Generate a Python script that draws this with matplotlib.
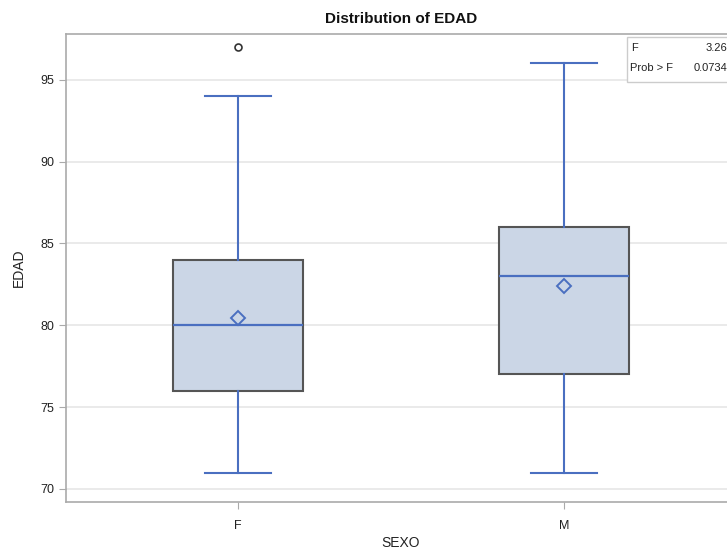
import matplotlib
matplotlib.use("Agg")
import matplotlib.pyplot as plt

categories = ["F", "M"]
whisker_low = [71, 71]
q1 = [76, 77]
median = [80, 83]
q3 = [84, 86]
whisker_high = [94, 96]
means = [80.45, 82.4]
outliers = [[97], []]
yticks = [70, 75, 80, 85, 90, 95]
f_value = "3.26"
p_value = "0.0734"

plt.rcParams['font.family'] = ['Liberation Sans', 'DejaVu Sans']

fig = plt.figure(figsize=(7.27, 5.5), dpi=100)
W, H = 727, 550
left, right, top, bottom = 66, 736, 34, 502
ax = fig.add_axes([left / W, 1 - bottom / H, (right - left) / W, (bottom - top) / H])

stats = []
for i, c in enumerate(categories):
    stats.append(dict(label=c, whislo=whisker_low[i], q1=q1[i], med=median[i],
                      q3=q3[i], whishi=whisker_high[i], mean=means[i], fliers=outliers[i]))

blue = "#4a6fc0"
ax.bxp(stats, positions=[0, 1], widths=0.4, showmeans=True, patch_artist=True,
       boxprops=dict(facecolor="#cbd6e6", edgecolor="#555555", linewidth=1.5),
       medianprops=dict(color=blue, linewidth=1.6),
       whiskerprops=dict(color=blue, linewidth=1.5),
       capprops=dict(color=blue, linewidth=1.5),
       capwidths=0.2,
       meanprops=dict(marker="D", markerfacecolor="none", markeredgecolor=blue,
                      markersize=7, markeredgewidth=1.4),
       flierprops=dict(marker="o", markerfacecolor="none", markeredgecolor="#333333",
                       markersize=5, markeredgewidth=1.2))

ax.set_xlim(-0.528, 1.528)
ax.set_ylim(69.2, 97.8)
ax.set_yticks(yticks)
ax.set_xticks([0, 1])
ax.set_xticklabels(categories)
ax.yaxis.grid(True, color="#e6e6e6", linewidth=1.2)
ax.set_axisbelow(True)
for s in ax.spines.values():
    s.set_color("#aaaaaa")
    s.set_linewidth(1.2)
ax.tick_params(axis="both", colors="#aaaaaa", labelcolor="#222222", labelsize=9, length=5)
ax.tick_params(axis="x", pad=8)
ax.set_xlabel("SEXO", fontsize=10, color="#222222", va="center")
ax.xaxis.set_label_coords(0.5, -41 / (bottom - top))
ax.set_ylabel("EDAD", fontsize=10, color="#222222", labelpad=10)
ax.set_title("Distribution of EDAD", fontsize=11, fontweight="bold", color="#111111", pad=8)

# inset statistics box
fig.patches.append(plt.Rectangle((627 / W, 1 - 82 / H), 120 / W, 45 / H, transform=fig.transFigure,
                                 facecolor="white", edgecolor="#cccccc", linewidth=1, zorder=5))
fig.text(631 / W, 1 - 48 / H, "F", fontsize=8, color="#222222", va="center", zorder=6)
fig.text(727 / W, 1 - 48 / H, f_value, fontsize=8, color="#222222", va="center", ha="right", zorder=6)
fig.text(630 / W, 1 - 68 / H, "Prob > F", fontsize=8, color="#222222", va="center", zorder=6)
fig.text(727 / W, 1 - 68 / H, p_value, fontsize=8, color="#222222", va="center", ha="right", zorder=6)

fig.savefig("out.png", dpi=100)
